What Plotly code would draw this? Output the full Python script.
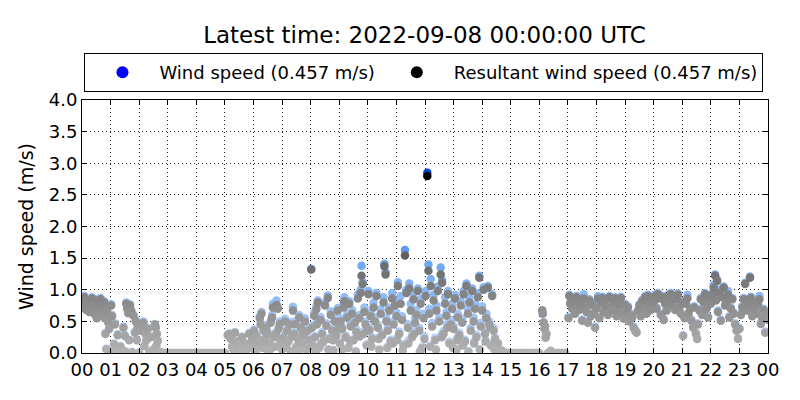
import plotly.graph_objects as go

# ---------------- data ----------------
hours = [
    # 00
    0.02, 0.05, 0.08, 0.12, 0.15, 0.18, 0.22, 0.25, 0.28, 0.32, 0.35, 0.38, 0.42, 0.45, 0.48, 0.52, 0.55, 0.58, 0.62, 0.65, 0.68, 0.72, 0.75, 0.78, 0.80, 0.82, 0.85, 0.88, 0.92, 0.95,
    # 01
    1.02, 1.05, 1.08, 1.12, 1.15, 1.20, 1.25, 1.30, 1.35, 1.40, 1.45, 1.50, 1.52, 1.55, 1.58, 1.62, 1.65, 1.68, 1.72, 1.75, 1.80, 1.85, 1.88, 1.92, 1.95,
    # 02
    2.00, 2.05, 2.10, 2.15, 2.18, 2.22, 2.25, 2.30, 2.35, 2.40, 2.45, 2.50, 2.55, 2.58, 2.60, 2.62, 2.65, 2.70, 2.75, 2.80,
    # calm 03-05
    2.90, 3.00, 3.10, 3.20, 3.30, 3.40, 3.50, 3.60, 3.70, 3.80, 3.90, 4.00, 4.10, 4.20, 4.30, 4.40, 4.50, 4.60, 4.70, 4.80, 4.90, 5.00,
    # 05
    5.10, 5.15, 5.20, 5.25, 5.30, 5.35, 5.40, 5.45, 5.50, 5.55, 5.60, 5.65, 5.70, 5.78, 5.85, 5.90, 5.95,
    # 06
    6.02, 6.05, 6.07, 6.10, 6.12, 6.18, 6.22, 6.25, 6.28, 6.32, 6.33, 6.35, 6.40, 6.45, 6.50, 6.52, 6.55, 6.58, 6.60, 6.65, 6.68, 6.72, 6.75, 6.78, 6.80, 6.85, 6.88, 6.92, 6.95, 6.98,
    # 07
    7.00, 7.05, 7.10, 7.12, 7.15, 7.18, 7.22, 7.28, 7.32, 7.35, 7.38, 7.42, 7.45, 7.50, 7.55, 7.58, 7.60, 7.65, 7.70, 7.72, 7.75, 7.80, 7.85, 7.90, 7.95, 7.98,
    # 08
    8.02, 8.05, 8.08, 8.12, 8.15, 8.18, 8.20, 8.22, 8.25, 8.30, 8.35, 8.38, 8.40, 8.45, 8.50, 8.55, 8.60, 8.62, 8.65, 8.70, 8.75, 8.78, 8.80, 8.85, 8.90, 8.95, 8.98,
    # 09
    9.02, 9.05, 9.10, 9.12, 9.15, 9.18, 9.22, 9.28, 9.32, 9.35, 9.38, 9.40, 9.45, 9.50, 9.55, 9.58, 9.60, 9.65, 9.70, 9.72, 9.75, 9.78, 9.82, 9.85, 9.88, 9.92, 9.96, 9.98,
    # 10
    10.02, 10.06, 10.10, 10.12, 10.15, 10.20, 10.25, 10.30, 10.35, 10.38, 10.40, 10.45, 10.50, 10.55, 10.58, 10.62, 10.65, 10.68, 10.70, 10.75, 10.80, 10.85, 10.88, 10.90, 10.95,
    # 11
    11.00, 11.02, 11.05, 11.10, 11.15, 11.20, 11.22, 11.25, 11.30, 11.35, 11.40, 11.42, 11.45, 11.50, 11.55, 11.60, 11.62, 11.65, 11.70, 11.75, 11.80, 11.82, 11.85, 11.90, 11.95, 11.98,
    # 12
    12.02, 12.08, 12.12, 12.15, 12.18, 12.20, 12.25, 12.30, 12.35, 12.38, 12.40, 12.45, 12.50, 12.55, 12.58, 12.60, 12.65, 12.70, 12.75, 12.78, 12.80, 12.85, 12.90, 12.95, 12.98,
    # 13
    13.00, 13.05, 13.10, 13.12, 13.15, 13.20, 13.25, 13.30, 13.32, 13.35, 13.40, 13.45, 13.50, 13.52, 13.55, 13.60, 13.65, 13.70, 13.72, 13.75, 13.80, 13.85, 13.90, 13.92, 13.95,
    # 14
    14.00, 14.05, 14.10, 14.12, 14.15, 14.20, 14.25, 14.28, 14.30, 14.35, 14.40, 14.42, 14.45, 14.50, 14.55, 14.60, 14.70, 14.80,
    # calm 15-16
    14.90, 15.00, 15.10, 15.20, 15.30, 15.40, 15.50, 15.60, 15.70, 15.80, 15.90, 16.00, 16.30, 16.50, 16.60, 16.70, 16.80, 16.90,
    # 16
    16.10, 16.12, 16.15, 16.18, 16.20, 16.22, 16.25, 16.40,
    # 17
    17.02, 17.05, 17.08, 17.12, 17.15, 17.20, 17.25, 17.30, 17.35, 17.40, 17.45, 17.50, 17.55, 17.60, 17.65, 17.70, 17.75, 17.80, 17.85, 17.90, 17.95,
    # 18
    18.00, 18.05, 18.10, 18.15, 18.20, 18.25, 18.30, 18.35, 18.40, 18.45, 18.50, 18.55, 18.60, 18.65, 18.70, 18.75, 18.80, 18.85, 18.90, 18.95,
    # 19
    19.00, 19.05, 19.10, 19.15, 19.20, 19.25, 19.30, 19.35, 19.40, 19.45, 19.50, 19.55, 19.60, 19.65, 19.70, 19.75, 19.80, 19.85, 19.90, 19.95,
    # 20
    20.00, 20.05, 20.10, 20.15, 20.20, 20.25, 20.30, 20.35, 20.40, 20.45, 20.50, 20.55, 20.60, 20.65, 20.70, 20.75, 20.80, 20.85, 20.90, 20.95,
    # 21
    21.00, 21.03, 21.08, 21.12, 21.18, 21.22, 21.28, 21.32, 21.38, 21.42, 21.48, 21.52, 21.55, 21.60, 21.65, 21.70, 21.75, 21.80, 21.85, 21.90, 21.95,
    # 22
    22.00, 22.05, 22.10, 22.15, 22.18, 22.22, 22.25, 22.30, 22.35, 22.40, 22.45, 22.50, 22.55, 22.60, 22.65, 22.70, 22.75, 22.80, 22.85, 22.90, 22.95,
    # 23
    23.00, 23.05, 23.10, 23.15, 23.20, 23.25, 23.30, 23.37, 23.40, 23.45, 23.50, 23.55, 23.60, 23.65, 23.70, 23.75, 23.80, 23.85, 23.90, 23.95, 24.00,
]

resultant_speed = [
    # 00
    0.80, 0.72, 0.88, 0.76, 0.68, 0.82, 0.74, 0.65, 0.80, 0.70, 0.86, 0.75, 0.62, 0.78, 0.68, 0.55, 0.83, 0.72, 0.66, 0.85, 0.76, 0.60, 0.70, 0.80, 0.55, 0.30, 0.06, 0.65, 0.48, 0.38,
    # 01
    0.75, 0.58, 0.02, 0.14, 0.45, 0.00, 0.28, 0.02, 0.10, 0.00, 0.40, 0.27, 0.02, 0.78, 0.70, 0.63, 0.20, 0.75, 0.66, 0.01, 0.59, 0.32, 0.50, 0.20, 0.42,
    # 02
    0.00, 0.35, 0.43, 0.48, 0.11, 0.30, 0.20, 0.38, 0.02, 0.25, 0.00, 0.05, 0.45, 0.40, 0.11, 0.30, 0.19, 0.00, 0.01, 0.00,
    # calm 03-05
    0.00, 0.00, 0.00, 0.00, 0.00, 0.00, 0.00, 0.00, 0.00, 0.00, 0.00, 0.00, 0.00, 0.00, 0.00, 0.00, 0.00, 0.00, 0.00, 0.00, 0.00, 0.00,
    # 05
    0.28, 0.30, 0.22, 0.10, 0.05, 0.32, 0.18, 0.08, 0.12, 0.04, 0.25, 0.02, 0.15, 0.06, 0.30, 0.10, 0.20,
    # 06
    0.35, 0.05, 0.02, 0.27, 0.12, 0.19, 0.55, 0.45, 0.62, 0.08, 0.18, 0.35, 0.22, 0.40, 0.30, 0.03, 0.15, 0.05, 0.48, 0.56, 0.72, 0.25, 0.10, 0.30, 0.76, 0.70, 0.38, 0.46, 0.20, 0.12,
    # 07
    0.05, 0.24, 0.50, 0.12, 0.08, 0.35, 0.18, 0.45, 0.02, 0.26, 0.67, 0.30, 0.46, 0.10, 0.22, 0.04, 0.56, 0.40, 0.15, 0.33, 0.28, 0.50, 0.05, 0.35, 0.20, 0.10,
    # 08
    1.32, 0.40, 0.12, 0.59, 0.25, 0.02, 0.69, 0.45, 0.80, 0.08, 0.52, 0.15, 0.30, 0.18, 0.75, 0.43, 0.87, 0.05, 0.22, 0.60, 0.35, 0.20, 0.04, 0.50, 0.28, 0.67, 0.40,
    # 09
    0.15, 0.50, 0.38, 0.06, 0.72, 0.82, 0.25, 0.56, 0.08, 0.78, 0.18, 0.42, 0.62, 0.20, 0.48, 0.02, 0.33, 0.86, 0.55, 0.26, 0.95, 1.22, 1.09, 0.30, 0.65, 0.45, 0.12, 0.35,
    # 10
    0.93, 0.36, 0.58, 0.10, 0.22, 0.72, 0.50, 0.90, 0.40, 0.22, 0.05, 0.62, 0.28, 0.80, 1.37, 1.24, 0.50, 0.08, 0.35, 0.67, 0.18, 0.86, 0.15, 0.45, 0.75,
    # 11
    0.58, 0.20, 1.06, 0.30, 0.78, 0.52, 0.04, 0.12, 1.54, 0.95, 0.40, 0.15, 1.02, 0.67, 0.25, 0.85, 0.30, 0.48, 0.60, 0.98, 0.35, 0.02, 0.78, 0.08, 0.55, 0.22,
    # 12
    0.90, 2.80, 1.30, 0.62, 0.10, 1.06, 0.42, 0.83, 0.20, 0.05, 0.67, 0.98, 0.50, 1.24, 0.25, 1.11, 0.30, 0.78, 0.59, 0.40, 0.93, 0.15, 0.45, 0.70, 0.08,
    # 13
    0.38, 0.86, 0.05, 0.20, 0.56, 0.28, 0.75, 0.48, 0.12, 0.93, 0.18, 1.06, 0.62, 0.02, 0.80, 0.35, 0.98, 0.50, 0.15, 0.70, 0.25, 0.88, 1.19, 0.05, 0.42,
    # 14
    0.67, 1.00, 0.30, 0.18, 0.55, 1.03, 0.45, 0.40, 0.12, 0.90, 0.35, 0.06, 0.22, 0.08, 0.15, 0.05, 0.03, 0.00,
    # calm 15-16
    0.00, 0.00, 0.00, 0.00, 0.00, 0.00, 0.00, 0.00, 0.00, 0.00, 0.00, 0.00, 0.00, 0.00, 0.00, 0.00, 0.00, 0.00,
    # 16
    0.67, 0.62, 0.48, 0.38, 0.42, 0.24, 0.30, 0.03,
    # 17
    0.55, 0.90, 0.78, 0.85, 0.70, 0.82, 0.62, 0.88, 0.75, 0.68, 0.80, 0.51, 0.86, 0.72, 0.65, 0.48, 0.83, 0.58, 0.76, 0.62, 0.40,
    # 18
    0.70, 0.86, 0.55, 0.80, 0.87, 0.65, 0.75, 0.85, 0.60, 0.88, 0.72, 0.68, 0.82, 0.86, 0.58, 0.70, 0.78, 0.87, 0.62, 0.54,
    # 19
    0.76, 0.66, 0.72, 0.50, 0.60, 0.56, 0.40, 0.35, 0.32, 0.66, 0.75, 0.58, 0.82, 0.70, 0.88, 0.62, 0.90, 0.78, 0.68, 0.85,
    # 20
    0.80, 0.90, 0.70, 0.93, 0.86, 0.60, 0.88, 0.52, 0.78, 0.67, 0.90, 0.82, 0.93, 0.75, 0.87, 0.68, 0.85, 0.92, 0.72, 0.62,
    # 21
    0.80, 0.27, 0.55, 0.78, 0.86, 0.62, 0.70, 0.51, 0.40, 0.72, 0.30, 0.22, 0.45, 0.67, 0.85, 0.60, 0.80, 0.93, 0.70, 0.56, 0.88,
    # 22
    0.78, 0.92, 1.03, 1.22, 0.83, 1.14, 0.65, 0.95, 0.51, 0.88, 1.03, 0.75, 0.80, 0.92, 0.56, 0.70, 0.85, 0.62, 0.45, 0.35, 0.22,
    # 23
    0.38, 0.60, 0.72, 0.85, 1.09, 0.67, 0.78, 1.19, 0.87, 0.58, 0.70, 0.80, 0.62, 0.75, 0.85, 0.46, 0.55, 0.68, 0.32, 0.60, 0.52,
]

wind_speed = [
    # 00
    0.82, 0.74, 0.90, 0.78, 0.70, 0.84, 0.76, 0.67, 0.82, 0.72, 0.88, 0.77, 0.64, 0.80, 0.70, 0.57, 0.85, 0.74, 0.68, 0.87, 0.78, 0.62, 0.72, 0.82, 0.57, 0.32, 0.07, 0.67, 0.50, 0.40,
    # 01
    0.77, 0.60, 0.03, 0.15, 0.47, 0.01, 0.30, 0.03, 0.11, 0.01, 0.42, 0.29, 0.03, 0.80, 0.72, 0.65, 0.21, 0.77, 0.68, 0.02, 0.61, 0.34, 0.52, 0.21, 0.44,
    # 02
    0.01, 0.37, 0.45, 0.50, 0.12, 0.32, 0.21, 0.40, 0.03, 0.27, 0.01, 0.06, 0.46, 0.41, 0.12, 0.31, 0.20, 0.01, 0.02, 0.01,
    # calm 03-05
    0.00, 0.00, 0.00, 0.00, 0.00, 0.00, 0.00, 0.00, 0.00, 0.00, 0.00, 0.00, 0.00, 0.00, 0.00, 0.00, 0.00, 0.00, 0.00, 0.00, 0.00, 0.00,
    # 05
    0.29, 0.31, 0.23, 0.11, 0.06, 0.33, 0.19, 0.09, 0.13, 0.05, 0.26, 0.03, 0.16, 0.07, 0.32, 0.11, 0.22,
    # 06
    0.37, 0.06, 0.03, 0.29, 0.13, 0.21, 0.58, 0.48, 0.65, 0.09, 0.20, 0.38, 0.24, 0.44, 0.33, 0.04, 0.17, 0.06, 0.52, 0.60, 0.78, 0.27, 0.11, 0.33, 0.83, 0.74, 0.41, 0.50, 0.22, 0.14,
    # 07
    0.06, 0.26, 0.54, 0.13, 0.10, 0.38, 0.20, 0.49, 0.03, 0.28, 0.73, 0.33, 0.50, 0.11, 0.24, 0.05, 0.60, 0.44, 0.17, 0.36, 0.31, 0.55, 0.06, 0.38, 0.22, 0.12,
    # 08
    1.33, 0.44, 0.13, 0.64, 0.27, 0.03, 0.74, 0.49, 0.83, 0.09, 0.57, 0.17, 0.33, 0.20, 0.80, 0.47, 0.91, 0.06, 0.24, 0.66, 0.38, 0.22, 0.05, 0.55, 0.31, 0.71, 0.45,
    # 09
    0.17, 0.55, 0.42, 0.07, 0.80, 0.88, 0.28, 0.62, 0.09, 0.82, 0.20, 0.47, 0.68, 0.22, 0.53, 0.03, 0.37, 0.92, 0.60, 0.30, 1.00, 1.38, 1.12, 0.34, 0.72, 0.50, 0.14, 0.40,
    # 10
    0.98, 0.40, 0.64, 0.12, 0.25, 0.80, 0.56, 0.95, 0.45, 0.25, 0.06, 0.69, 0.32, 0.88, 1.41, 1.28, 0.56, 0.10, 0.40, 0.72, 0.21, 0.95, 0.18, 0.50, 0.82,
    # 11
    0.64, 0.24, 1.12, 0.34, 0.90, 0.58, 0.05, 0.14, 1.63, 1.00, 0.46, 0.20, 1.10, 0.78, 0.29, 0.95, 0.36, 0.55, 0.68, 1.02, 0.40, 0.03, 0.85, 0.10, 0.62, 0.26,
    # 12
    0.98, 2.85, 1.40, 0.70, 0.12, 1.17, 0.48, 0.92, 0.24, 0.06, 0.75, 1.05, 0.56, 1.35, 0.30, 1.15, 0.35, 0.88, 0.65, 0.46, 0.98, 0.18, 0.52, 0.78, 0.10,
    # 13
    0.43, 0.92, 0.06, 0.24, 0.62, 0.32, 0.82, 0.54, 0.14, 0.98, 0.21, 1.10, 0.70, 0.03, 0.88, 0.40, 1.02, 0.56, 0.18, 0.78, 0.29, 0.94, 1.22, 0.06, 0.48,
    # 14
    0.74, 1.04, 0.35, 0.20, 0.62, 1.06, 0.50, 0.43, 0.14, 0.93, 0.39, 0.07, 0.25, 0.09, 0.16, 0.06, 0.04, 0.01,
    # calm 15-16
    0.00, 0.00, 0.00, 0.00, 0.00, 0.00, 0.00, 0.00, 0.00, 0.00, 0.00, 0.00, 0.00, 0.00, 0.00, 0.00, 0.00, 0.00,
    # 16
    0.68, 0.63, 0.49, 0.39, 0.43, 0.25, 0.31, 0.04,
    # 17
    0.57, 0.92, 0.80, 0.87, 0.72, 0.84, 0.64, 0.90, 0.77, 0.70, 0.82, 0.53, 0.93, 0.74, 0.67, 0.50, 0.85, 0.60, 0.78, 0.64, 0.42,
    # 18
    0.72, 0.90, 0.57, 0.82, 0.89, 0.67, 0.77, 0.87, 0.62, 0.90, 0.74, 0.70, 0.84, 0.88, 0.60, 0.72, 0.80, 0.89, 0.64, 0.56,
    # 19
    0.78, 0.68, 0.74, 0.52, 0.62, 0.58, 0.42, 0.37, 0.34, 0.68, 0.77, 0.60, 0.84, 0.72, 0.90, 0.64, 0.92, 0.80, 0.70, 0.87,
    # 20
    0.82, 0.92, 0.72, 0.95, 0.88, 0.62, 0.90, 0.54, 0.80, 0.69, 0.92, 0.84, 0.95, 0.77, 0.89, 0.70, 0.87, 0.94, 0.74, 0.64,
    # 21
    0.82, 0.28, 0.57, 0.80, 0.92, 0.64, 0.72, 0.53, 0.42, 0.74, 0.32, 0.24, 0.47, 0.69, 0.87, 0.62, 0.82, 0.95, 0.72, 0.58, 0.90,
    # 22
    0.80, 0.94, 1.08, 1.24, 0.85, 1.16, 0.67, 1.00, 0.53, 0.90, 1.05, 0.77, 0.82, 0.98, 0.58, 0.72, 0.87, 0.64, 0.47, 0.37, 0.24,
    # 23
    0.40, 0.62, 0.74, 0.87, 1.11, 0.69, 0.80, 1.21, 0.89, 0.60, 0.72, 0.82, 0.64, 0.77, 0.90, 0.48, 0.57, 0.70, 0.34, 0.62, 0.54,
]

hour_ticks = [0, 1, 2, 3, 4, 5, 6, 7, 8, 9, 10, 11, 12, 13, 14, 15, 16, 17, 18, 19, 20, 21, 22, 23, 24]
hour_labels = ["00", "01", "02", "03", "04", "05", "06", "07", "08", "09", "10", "11",
               "12", "13", "14", "15", "16", "17", "18", "19", "20", "21", "22", "23", "00"]

latest_wind = 0.457
latest_resultant = 0.457
title_text = "Latest time: 2022-09-08 00:00:00 UTC"

assert len(hours) == len(resultant_speed) == len(wind_speed), (len(hours), len(resultant_speed), len(wind_speed))

# ---------------- figure ----------------
FONT = "DejaVu Sans"
fig = go.Figure()

fig.add_trace(go.Scatter(
    x=hours, y=wind_speed, mode="markers", showlegend=False, hoverinfo="x+y",
    marker=dict(size=8.5, color=wind_speed, cmin=0, cmax=2.85, showscale=False,
                colorscale=[[0, "#c3d9fa"], [0.5, "#6fa7f4"], [1, "#0046d8"]],
                line=dict(width=0)),
))
fig.add_trace(go.Scatter(
    x=hours, y=resultant_speed, mode="markers", showlegend=False, hoverinfo="x+y",
    marker=dict(size=8.5, color=resultant_speed, cmin=0, cmax=2.8, showscale=False,
                colorscale=[[0, "#b3b3b3"], [0.5, "#6a6a6a"], [1, "#000000"]],
                line=dict(width=0)),
))

# legend entries
fig.add_trace(go.Scatter(
    x=[None], y=[None], mode="markers", name=f"Wind speed ({latest_wind:.3f} m/s)",
    marker=dict(size=7, color="#0000ff"),
))
fig.add_trace(go.Scatter(
    x=[None], y=[None], mode="markers", name=f"Resultant wind speed ({latest_resultant:.3f} m/s)",
    marker=dict(size=7, color="#000000"),
))

axis_common = dict(
    showline=True, linecolor="black", linewidth=1, mirror="ticks",
    ticks="inside", ticklen=5, tickcolor="black", tickwidth=1,
    showgrid=True, gridcolor="rgba(0,0,0,0.85)", gridwidth=1, griddash="1px,3px",
    zeroline=False, automargin=False,
    tickfont=dict(family=FONT, size=18, color="black"),
)

fig.update_xaxes(range=[0, 24], tickmode="array", tickvals=hour_ticks, ticktext=hour_labels,
                 **axis_common)
fig.update_yaxes(range=[0, 4], tickmode="linear", tick0=0, dtick=0.5, tickformat=".1f",
                 title=dict(text="Wind speed (m/s)", font=dict(family=FONT, size=19, color="black"),
                            standoff=10),
                 **axis_common)

# the page shows the figure with an 8 px offset, so margins are set to compensate
fig.update_layout(
    width=800, height=400,
    margin=dict(l=74, r=40, t=92, b=55),
    paper_bgcolor="white", plot_bgcolor="white",
    font=dict(family=FONT, size=18, color="black"),
    title=dict(text=title_text, x=0.5206, xanchor="center", y=0.9325, yanchor="middle",
               font=dict(family=FONT, size=23, color="black")),
    legend=dict(orientation="h", x=0.4985, xanchor="center",
                y=1.1087, yanchor="middle",
                bordercolor="black", borderwidth=1, bgcolor="white",
                font=dict(family=FONT, size=18, color="black"),
                itemwidth=64, itemsizing="constant"),
)

fig.write_html("out.html")
